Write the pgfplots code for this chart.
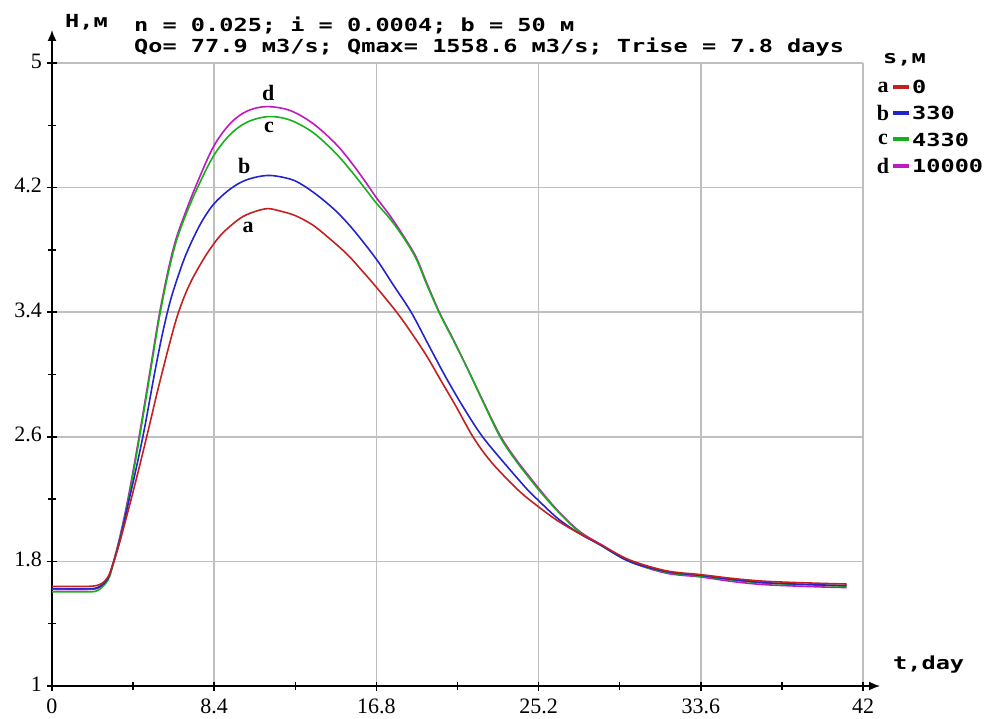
\documentclass[border=0pt]{standalone}
\usepackage{pgfplots}
\pgfplotsset{compat=1.18}
\usepackage{fontspec}
\usetikzlibrary{arrows.meta}
\setmainfont{Liberation Serif}
\newfontfamily\monofont{DejaVu Sans Mono}
\definecolor{cA}{RGB}{196,32,32}
\definecolor{cB}{RGB}{36,36,204}
\definecolor{cC}{RGB}{24,176,24}
\definecolor{cD}{RGB}{192,24,192}
\newcommand{\mt}[1]{\scalebox{1.31}[1]{\monofont\bfseries\fontsize{18}{18}\selectfont #1}}
\begin{document}
\begin{tikzpicture}
\useasboundingbox (0,0) rectangle (985pt,718pt);
\begin{axis}[
  at={(52pt,32pt)}, anchor=south west,
  scale only axis, width=811pt, height=623pt,
  xmin=0, xmax=42, ymin=1, ymax=5,
  axis x line=bottom, axis y line=left,
  axis line style={black, line width=1.6pt},
  x axis line style={-{Latex[length=11pt,width=9pt]}, shorten >=-17pt},
  y axis line style={-{Latex[length=11pt,width=9pt]}, shorten >=-33pt},
  xtick={0,8.4,16.8,25.2,33.6,42},
  xticklabels={0,8.4,16.8,25.2,33.6,42},
  ytick={1,1.8,2.6,3.4,4.2,5},
  yticklabels={1,1.8,2.6,3.4,4.2,5},
  minor xtick={4.2,12.6,21,29.4,37.8},
  minor ytick={1.4,2.2,3.0,3.8,4.6},
  grid=major,
  major grid style={draw=black!25, line width=1.5pt},
  tick align=center,
  major tick length=9pt, minor tick length=8pt,
  major tick style={black, line width=1.5pt},
  minor tick style={black, line width=1.5pt},
  /pgf/number format/assume math mode=true,
  tick label style={font=\fontsize{22}{22}\selectfont},
  xticklabel style={yshift=-5pt},
  yticklabel style={xshift=-2pt, yshift=2pt},
  clip=false,
  every axis plot/.append style={smooth, tension=0.55, line width=1.6pt},
]
\addplot[cD] coordinates {
(0,1.62)(1.9,1.62)(2.3,1.625)(2.6,1.645)(2.9,1.69)(3.1,1.76)(3.5,1.95)(3.9,2.18)(4.3,2.45)(4.7,2.74)
(5.1,3.04)(5.55,3.38)(6.0,3.66)(6.4,3.86)(6.85,4.02)(7.45,4.21)(8.35,4.46)(9.22,4.61)(10.08,4.69)(11.1,4.72)
(12.33,4.695)(13.53,4.61)(14.74,4.475)(15.6,4.345)(16.3,4.225)(16.8,4.135)(17.5,4.02)(18.2,3.89)(18.85,3.755)
(19.4,3.59)(20.06,3.40)(20.7,3.245)(21.47,3.05)(22.3,2.835)(23.2,2.61)(24.0,2.46)(24.75,2.34)(25.2,2.27)
(26.2,2.125)(27.3,1.995)(28.4,1.91)(29.9,1.80)(31.8,1.725)(33.6,1.70)(35.3,1.67)(37.0,1.65)(39.6,1.637)(41.15,1.632)
};
\addplot[cC] coordinates {
(0,1.605)(1.9,1.605)(2.3,1.61)(2.6,1.635)(2.9,1.68)(3.1,1.75)(3.5,1.94)(3.9,2.16)(4.3,2.43)(4.7,2.72)
(5.1,3.02)(5.55,3.36)(6.0,3.64)(6.4,3.84)(6.85,4.0)(7.5,4.19)(8.35,4.40)(9.22,4.54)(10.1,4.62)(11.2,4.656)
(12.3,4.635)(13.5,4.555)(14.7,4.42)(15.6,4.29)(16.3,4.18)(16.8,4.10)(17.5,4.00)(18.2,3.88)(18.85,3.745)
(19.4,3.58)(20.06,3.395)(20.7,3.24)(21.47,3.05)(22.3,2.83)(23.2,2.60)(24.0,2.45)(24.75,2.33)(25.2,2.26)
(26.2,2.12)(27.3,1.99)(28.4,1.905)(29.9,1.80)(31.8,1.73)(33.6,1.705)(35.3,1.68)(37.0,1.66)(39.6,1.648)(41.15,1.64)
};
\addplot[cB] coordinates {
(0,1.625)(1.9,1.625)(2.3,1.63)(2.6,1.65)(2.9,1.69)(3.1,1.76)(3.5,1.93)(4.0,2.20)(4.4,2.42)(4.8,2.66)
(5.3,3.00)(5.7,3.25)(6.1,3.46)(6.5,3.62)(6.97,3.78)(7.66,3.96)(8.35,4.09)(9.22,4.19)(10.08,4.25)
(11.2,4.278)(12.33,4.255)(13.0,4.215)(13.8,4.145)(14.7,4.05)(15.6,3.93)(16.8,3.74)(17.7,3.57)(18.6,3.40)(19.5,3.19)
(20.45,2.97)(21.4,2.77)(22.3,2.60)(23.5,2.42)(24.7,2.25)(25.2,2.19)(26.2,2.075)(27.3,1.98)(28.4,1.905)
(29.9,1.80)(31.8,1.735)(33.6,1.71)(35.3,1.683)(37.0,1.663)(39.6,1.65)(41.15,1.645)
};
\addplot[cA] coordinates {
(0,1.64)(1.0,1.64)(1.9,1.64)(2.3,1.645)(2.6,1.66)(2.9,1.70)(3.15,1.78)(3.5,1.92)(4.1,2.20)(4.55,2.42)
(5.0,2.65)(5.4,2.86)(5.7,3.01)(6.05,3.18)(6.45,3.36)(6.85,3.50)(7.25,3.61)(7.7,3.71)(8.1,3.79)(8.7,3.89)
(9.3,3.96)(9.9,4.015)(10.6,4.05)(11.2,4.065)(11.8,4.05)(12.6,4.02)(13.5,3.96)(14.4,3.87)(15.3,3.77)
(16.1,3.66)(16.8,3.56)(17.85,3.40)(18.6,3.27)(19.4,3.12)(20.1,2.97)(20.9,2.80)(21.8,2.60)(22.6,2.46)
(23.4,2.35)(24.3,2.24)(25.2,2.15)(26.2,2.06)(27.3,1.98)(28.4,1.91)(29.9,1.81)(31.8,1.74)(33.6,1.715)
(35.3,1.69)(37.0,1.672)(39.6,1.66)(41.15,1.655)
};
\node[font=\bfseries\fontsize{22}{22}\selectfont] at (axis cs:11.2,4.806) {d};
\node[font=\bfseries\fontsize{22}{22}\selectfont] at (axis cs:11.24,4.584) {c};
\node[font=\bfseries\fontsize{22}{22}\selectfont] at (axis cs:9.96,4.342) {b};
\node[font=\bfseries\fontsize{22}{22}\selectfont] at (axis cs:10.16,3.946) {a};
\end{axis}
% titles
\node[anchor=west, inner sep=0] at (65pt,695.5pt) {\mt{H,м}};
\node[anchor=west, inner sep=0] at (134pt,693pt) {\mt{n = 0.025; i = 0.0004; b = 50 м}};
\node[anchor=west, inner sep=0] at (134pt,671pt) {\mt{Qo= 77.9 м3/s; Qmax= 1558.6 м3/s; Trise = 7.8 days}};
\node[anchor=west, inner sep=0] at (893pt,53pt) {\mt{t,day}};
% legend
\node[anchor=west, inner sep=0] at (883pt,658pt) {\mt{s,м}};
\foreach \y/\l/\c/\v in {631/a/cA/0, 605/b/cB/330, 578.5/c/cC/4330, 552/d/cD/10000}{
  \node[font=\bfseries\fontsize{22}{22}\selectfont, inner sep=0] at (883pt,\y pt) {\l};
  \draw[\c, line width=4pt] (893pt,\y pt) -- (909pt,\y pt);
  \node[anchor=west, inner sep=0] at (912pt,\y pt) {\mt{\v}};
}
\end{tikzpicture}
\end{document}
